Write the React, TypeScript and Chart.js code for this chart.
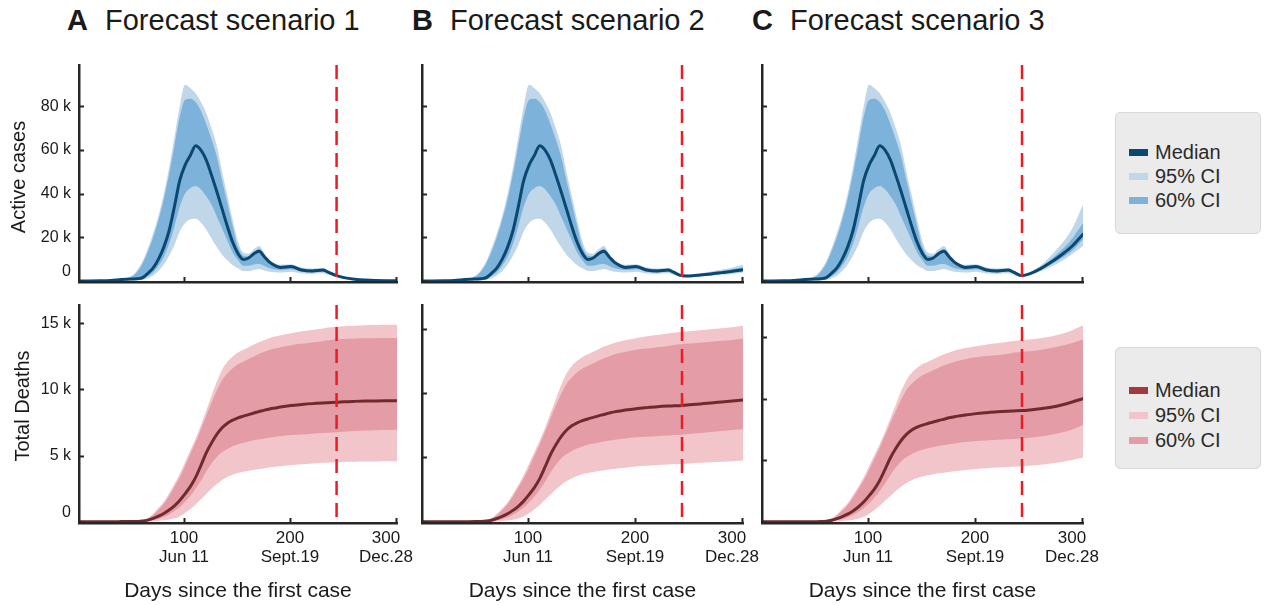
import React, { useEffect, useRef } from 'react';
import { Chart, registerables } from 'chart.js';

Chart.register(...registerables);

const FONT = '"Liberation Sans", Arial, Helvetica, sans-serif';
const AXIS_COLOR = '#262626';
const TEXT_COLOR = '#1a1a1a';
const CUTOFF_COLOR = '#ec1c24';

const ACT_95 = '#bfd7e9';
const ACT_60 = '#7db3da';
const ACT_MED = '#0b4871';
const DTH_95 = '#f1c5ca';
const DTH_60 = '#e49da6';
const DTH_MED = '#6f2a2d';
const DTH_MED_LEGEND = '#a3393f';

// ---- axis / category data ----
const DAYS_HIST = [0, 10, 20, 30, 40, 50, 55, 60, 65, 70, 75, 80, 85, 90, 95, 100, 105, 110, 115, 120, 125, 130, 135, 140, 145, 150, 155, 160, 165, 170, 175, 180, 185, 190, 200, 210, 220, 230, 235, 243];
const DAYS_FCST = [243, 250, 260, 270, 280, 290, 300];
const CUTOFF_DAY = 243;
const X_TICKS = [100, 200, 300];
const X_TICK_DATES = ['Jun 11', 'Sept.19', 'Dec.28'];
const ACTIVE_Y_TICKS = [0, 20, 40, 60, 80];
const DEATH_Y_TICKS = [0, 5, 10, 15];
const SCENARIO_TITLES = ['Forecast scenario 1', 'Forecast scenario 2', 'Forecast scenario 3'];
const PANEL_LETTERS = ['A', 'B', 'C'];
const LEGEND_LABELS = ['Median', '95% CI', '60% CI'];

// ---- Active cases (thousands), history ----
const ACTIVE_MED_HIST = [0, 0, 0.05, 0.2, 0.6, 0.9, 1.0, 1.5, 3.5, 6, 10, 15.5, 23, 34, 46, 53, 57.5, 62, 60, 55.5, 48.5, 41, 33, 25, 17.7, 12.5, 9.8, 10.5, 12.5, 13.6, 11, 8.5, 7, 6.2, 6.6, 5.0, 4.6, 5.0, 4.0, 2.4];
const ACTIVE_U95_HIST = [0, 0, 0.1, 0.4, 1, 2.5, 5, 9, 15, 22, 30, 40, 52, 66, 80, 90, 88.5, 86, 82, 77, 70, 62, 50, 39, 28, 18, 13, 12.5, 14.5, 16, 12.5, 9.5, 8, 7.4, 7.6, 6.1, 5.7, 5.9, 4.9, 3.0];
const ACTIVE_U60_HIST = [0, 0, 0.08, 0.3, 0.8, 2, 4.2, 8, 13.5, 20, 28, 37.5, 49, 62, 75, 83, 83.5, 82, 78, 72, 65, 57, 46, 35.5, 25, 15.5, 11.5, 11.2, 13.2, 14.8, 11.8, 8.7, 7.5, 6.9, 7.1, 5.7, 5.3, 5.5, 4.5, 2.8];
const ACTIVE_L60_HIST = [0, 0, 0.02, 0.1, 0.3, 0.5, 0.6, 0.8, 2.2, 4, 7, 11, 17, 25, 34, 40, 42.5, 43.5, 42, 38.8, 35, 29.5, 24, 18.5, 13, 9.5, 7, 7, 7.5, 7.7, 6.8, 5.8, 5.3, 5, 5.4, 4.2, 3.9, 4.2, 3.3, 2.0];
const ACTIVE_L95_HIST = [0, 0, 0, 0.05, 0.15, 0.25, 0.3, 0.4, 1.2, 2.5, 4.5, 7.5, 11.5, 16.5, 22.5, 26.5, 28.2, 28.5, 26.8, 23.6, 19.5, 15.5, 12, 9.5, 7.2, 5.8, 4.5, 4.5, 5.0, 5.5, 4.8, 4.2, 4.0, 3.8, 4.2, 3.4, 3.2, 3.5, 2.8, 1.8];

// ---- Active cases (thousands), forecasts ----
const ACTIVE_MED_S1 = [2.4, 1.5, 0.8, 0.4, 0.2, 0.1, 0.05];
const ACTIVE_U95_S1 = [3.0, 2.0, 1.1, 0.6, 0.35, 0.2, 0.1];
const ACTIVE_U60_S1 = [2.8, 1.8, 1.0, 0.5, 0.3, 0.15, 0.08];
const ACTIVE_L60_S1 = [2.0, 1.2, 0.6, 0.3, 0.15, 0.07, 0.03];
const ACTIVE_L95_S1 = [1.8, 1.0, 0.5, 0.25, 0.1, 0.05, 0.02];

const ACTIVE_MED_S2 = [2.4, 2.3, 2.7, 3.2, 3.8, 4.4, 5.1];
const ACTIVE_U95_S2 = [3.0, 2.9, 3.5, 4.3, 5.2, 6.2, 7.4];
const ACTIVE_U60_S2 = [2.8, 2.7, 3.2, 3.8, 4.5, 5.3, 6.3];
const ACTIVE_L60_S2 = [2.0, 2.0, 2.3, 2.7, 3.2, 3.7, 4.3];
const ACTIVE_L95_S2 = [1.8, 1.8, 2.1, 2.4, 2.8, 3.2, 3.7];

const ACTIVE_MED_S3 = [2.4, 3.2, 5.5, 8.5, 12, 16, 21.4];
const ACTIVE_U95_S3 = [3.0, 4.0, 7.0, 11.5, 17, 24, 35];
const ACTIVE_U60_S3 = [2.8, 3.6, 6.2, 9.8, 14.2, 19.5, 26.5];
const ACTIVE_L60_S3 = [2.0, 2.9, 4.9, 7.5, 10.5, 14, 19];
const ACTIVE_L95_S3 = [1.8, 2.6, 4.4, 6.5, 9, 12.3, 16];

// ---- Total deaths (thousands), history ----
const DEATH_MED_HIST = [0, 0, 0, 0, 0.005, 0.01, 0.02, 0.05, 0.12, 0.25, 0.42, 0.62, 0.88, 1.2, 1.6, 2.1, 2.65, 3.35, 4.25, 5.2, 5.95, 6.6, 7.1, 7.45, 7.68, 7.85, 7.98, 8.1, 8.22, 8.33, 8.44, 8.53, 8.6, 8.67, 8.78, 8.86, 8.93, 8.98, 9.0, 9.03];
const DEATH_U95_HIST = [0, 0, 0, 0.005, 0.01, 0.03, 0.06, 0.12, 0.28, 0.6, 1.05, 1.5, 2.15, 2.85, 3.6, 4.5, 5.4, 6.3, 7.3, 8.4, 9.5, 10.6, 11.5, 12.1, 12.5, 12.8, 13.0, 13.2, 13.4, 13.6, 13.75, 13.9, 14.0, 14.1, 14.25, 14.4, 14.5, 14.62, 14.68, 14.75];
const DEATH_U60_HIST = [0, 0, 0, 0.004, 0.008, 0.02, 0.05, 0.1, 0.22, 0.5, 0.9, 1.35, 1.95, 2.65, 3.35, 4.2, 5.1, 6.0, 7.0, 8.0, 9.0, 9.9, 10.7, 11.2, 11.6, 11.9, 12.1, 12.3, 12.5, 12.7, 12.85, 13.0, 13.1, 13.2, 13.35, 13.45, 13.55, 13.65, 13.72, 13.8];
const DEATH_L60_HIST = [0, 0, 0, 0, 0, 0.005, 0.01, 0.02, 0.05, 0.12, 0.22, 0.35, 0.55, 0.8, 1.1, 1.5, 1.95, 2.5, 3.1, 3.8, 4.4, 4.9, 5.25, 5.5, 5.7, 5.85, 5.97, 6.07, 6.15, 6.23, 6.3, 6.36, 6.42, 6.47, 6.55, 6.6, 6.66, 6.7, 6.73, 6.76];
const DEATH_L95_HIST = [0, 0, 0, 0, 0, 0, 0, 0, 0.01, 0.03, 0.06, 0.1, 0.16, 0.25, 0.4, 0.65, 0.95, 1.3, 1.7, 2.1, 2.5, 2.85, 3.15, 3.38, 3.55, 3.68, 3.78, 3.86, 3.93, 3.99, 4.05, 4.1, 4.15, 4.2, 4.28, 4.34, 4.4, 4.45, 4.47, 4.5];

// ---- Total deaths (thousands), forecasts ----
const DEATH_MED_S1 = [9.03, 9.07, 9.1, 9.12, 9.13, 9.14, 9.15];
const DEATH_U95_S1 = [14.75, 14.78, 14.82, 14.85, 14.87, 14.89, 14.9];
const DEATH_U60_S1 = [13.8, 13.82, 13.85, 13.87, 13.88, 13.89, 13.9];
const DEATH_L60_S1 = [6.76, 6.8, 6.85, 6.89, 6.92, 6.94, 6.96];
const DEATH_L95_S1 = [4.5, 4.52, 4.54, 4.55, 4.56, 4.57, 4.58];

const DEATH_MED_S2 = [9.03, 9.08, 9.15, 9.22, 9.3, 9.38, 9.46];
const DEATH_U95_S2 = [14.75, 14.8, 14.87, 14.95, 15.03, 15.11, 15.2];
const DEATH_U60_S2 = [13.8, 13.84, 13.9, 13.97, 14.05, 14.12, 14.2];
const DEATH_L60_S2 = [6.76, 6.81, 6.88, 6.96, 7.04, 7.12, 7.2];
const DEATH_L95_S2 = [4.5, 4.53, 4.57, 4.62, 4.66, 4.7, 4.75];

const DEATH_MED_S3 = [9.03, 9.08, 9.17, 9.3, 9.48, 9.72, 10.0];
const DEATH_U95_S3 = [14.75, 14.8, 14.9, 15.05, 15.25, 15.55, 15.95];
const DEATH_U60_S3 = [13.8, 13.85, 13.95, 14.1, 14.3, 14.52, 14.8];
const DEATH_L60_S3 = [6.76, 6.82, 6.92, 7.06, 7.25, 7.5, 7.86];
const DEATH_L95_S3 = [4.5, 4.55, 4.63, 4.73, 4.86, 5.02, 5.2];

// y-axis ranges (thousands)
const ACTIVE_Y_RANGE = [-0.5, 99];
const DEATH_Y_RANGES = [[-0.1, 16.39], [-0.1, 16.83], [-0.1, 17.6]];

type Band = { med: number[]; u95: number[]; u60: number[]; l60: number[]; l95: number[] };

const ACTIVE_HIST: Band = { med: ACTIVE_MED_HIST, u95: ACTIVE_U95_HIST, u60: ACTIVE_U60_HIST, l60: ACTIVE_L60_HIST, l95: ACTIVE_L95_HIST };
const DEATH_HIST: Band = { med: DEATH_MED_HIST, u95: DEATH_U95_HIST, u60: DEATH_U60_HIST, l60: DEATH_L60_HIST, l95: DEATH_L95_HIST };
const ACTIVE_FCST: Band[] = [
  { med: ACTIVE_MED_S1, u95: ACTIVE_U95_S1, u60: ACTIVE_U60_S1, l60: ACTIVE_L60_S1, l95: ACTIVE_L95_S1 },
  { med: ACTIVE_MED_S2, u95: ACTIVE_U95_S2, u60: ACTIVE_U60_S2, l60: ACTIVE_L60_S2, l95: ACTIVE_L95_S2 },
  { med: ACTIVE_MED_S3, u95: ACTIVE_U95_S3, u60: ACTIVE_U60_S3, l60: ACTIVE_L60_S3, l95: ACTIVE_L95_S3 },
];
const DEATH_FCST: Band[] = [
  { med: DEATH_MED_S1, u95: DEATH_U95_S1, u60: DEATH_U60_S1, l60: DEATH_L60_S1, l95: DEATH_L95_S1 },
  { med: DEATH_MED_S2, u95: DEATH_U95_S2, u60: DEATH_U60_S2, l60: DEATH_L60_S2, l95: DEATH_L95_S2 },
  { med: DEATH_MED_S3, u95: DEATH_U95_S3, u60: DEATH_U60_S3, l60: DEATH_L60_S3, l95: DEATH_L95_S3 },
];

function series(hist: number[], fc: number[]) {
  const pts = DAYS_HIST.map((d, i) => ({ x: d, y: hist[i] }));
  DAYS_FCST.forEach((d, i) => {
    if (i > 0) pts.push({ x: d, y: fc[i] });
  });
  return pts;
}

type PanelSpec = {
  left: number; top: number; w: number; h: number;
  yW: number; xH: number; padRight: number;
  hist: Band; fc: Band;
  yMin: number; yMax: number; yTicks: number[];
  c95: string; c60: string; cMed: string;
  yLabels: boolean; xLabels: boolean; yTitle?: string; yTitleX?: number; yTitleY?: number;
};

function makeDecor(p: PanelSpec) {
  return {
    id: 'decor',
    afterDraw(chart: any) {
      const { ctx, chartArea: a } = chart;
      const xs = chart.scales.x;
      const ys = chart.scales.y;
      ctx.save();
      ctx.strokeStyle = AXIS_COLOR;
      ctx.lineWidth = 2;
      ctx.beginPath();
      for (const v of p.yTicks) {
        const py = Math.round(ys.getPixelForValue(v)) + 0.5;
        ctx.moveTo(a.left, py);
        ctx.lineTo(a.left + 5, py);
      }
      for (const v of X_TICKS) {
        const px = Math.round(xs.getPixelForValue(v)) - 0.5;
        ctx.moveTo(px, a.bottom);
        ctx.lineTo(px, a.bottom - 5);
      }
      ctx.stroke();
      ctx.fillStyle = TEXT_COLOR;
      ctx.textBaseline = 'middle';
      if (p.yLabels) {
        ctx.font = `16px ${FONT}`;
        ctx.textAlign = 'right';
        for (const v of p.yTicks) {
          const py = ys.getPixelForValue(v) + (v === 0 ? -9 : 0);
          ctx.fillText(v === 0 ? '0' : `${v} k`, a.left - 8, py);
        }
      }
      if (p.xLabels) {
        ctx.font = `17px ${FONT}`;
        ctx.textAlign = 'center';
        X_TICKS.forEach((v, i) => {
          const shift = i === X_TICKS.length - 1 ? -11 : -1;
          const px = xs.getPixelForValue(v) + shift;
          ctx.fillText(String(v), px, a.bottom + 15);
          ctx.fillText(X_TICK_DATES[i], px, a.bottom + 34.5);
        });
      }
      if (p.yTitle) {
        ctx.font = `20px ${FONT}`;
        ctx.textAlign = 'center';
        ctx.translate(p.yTitleX! - p.left, p.yTitleY! - p.top);
        ctx.rotate(-Math.PI / 2);
        ctx.fillText(p.yTitle, 0, 0);
      }
      ctx.restore();
    },
  };
}

function buildConfig(p: PanelSpec): any {
  const transparent = 'rgba(0,0,0,0)';
  const band = { pointRadius: 0, borderWidth: 1, borderColor: transparent, cubicInterpolationMode: 'monotone' };
  return {
    type: 'line',
    data: {
      datasets: [
        {
          data: [{ x: CUTOFF_DAY, y: p.yMax }, { x: CUTOFF_DAY, y: p.yMin }],
          borderColor: CUTOFF_COLOR, borderWidth: 2.5, borderDash: [14, 8], pointRadius: 0, fill: false,
        },
        {
          data: series(p.hist.med, p.fc.med),
          borderColor: p.cMed, borderWidth: 3, pointRadius: 0, fill: false, cubicInterpolationMode: 'monotone',
          borderCapStyle: 'round', borderJoinStyle: 'round',
        },
        { ...band, data: series(p.hist.u60, p.fc.u60), backgroundColor: p.c60, fill: 3 },
        { ...band, data: series(p.hist.l60, p.fc.l60), fill: false },
        { ...band, data: series(p.hist.u95, p.fc.u95), backgroundColor: p.c95, fill: 5 },
        { ...band, data: series(p.hist.l95, p.fc.l95), fill: false },
      ],
    },
    options: {
      responsive: false,
      animation: false,
      events: [],
      layout: { padding: { left: 0, right: p.padRight, top: 10, bottom: 0 } },
      plugins: { legend: { display: false }, tooltip: { enabled: false } },
      scales: {
        x: {
          type: 'linear', position: 'bottom', min: 0, max: 300,
          grid: { display: false, drawTicks: false },
          border: { display: true, color: AXIS_COLOR, width: 2.5, z: 1 },
          ticks: { display: false },
          title: p.xLabels
            ? { display: true, text: 'Days since the first case', color: TEXT_COLOR, font: { family: FONT, size: 21 }, padding: { top: 0, bottom: 1 } }
            : { display: false },
          afterFit: (s: any) => { s.height = p.xH; },
        },
        y: {
          type: 'linear', position: 'left', min: p.yMin, max: p.yMax,
          grid: { display: false, drawTicks: false },
          border: { display: true, color: AXIS_COLOR, width: 2.5, z: 1 },
          ticks: { display: false },
          afterFit: (s: any) => { s.width = p.yW; },
        },
      },
    },
    plugins: [makeDecor(p)],
  };
}

function Panel({ spec }: { spec: PanelSpec }) {
  const ref = useRef<HTMLCanvasElement>(null);
  useEffect(() => {
    const chart = new Chart(ref.current as HTMLCanvasElement, buildConfig(spec));
    return () => chart.destroy();
  }, []);
  return (
    <canvas
      ref={ref}
      width={spec.w}
      height={spec.h}
      style={{ position: 'absolute', left: spec.left, top: spec.top, width: spec.w, height: spec.h }}
    />
  );
}

const COLUMNS = [
  { left: 0, w: 440, yW: 79, padRight: 43 },
  { left: 400, w: 380, yW: 22, padRight: 37 },
  { left: 740, w: 375, yW: 22, padRight: 32 },
];
const TITLE_LEFTS = [67, 412, 752];

function buildSpecs(): PanelSpec[] {
  const specs: PanelSpec[] = [];
  COLUMNS.forEach((c, i) => {
    specs.push({
      left: c.left, top: 55, w: c.w, h: 235, yW: c.yW, xH: 8, padRight: c.padRight,
      hist: ACTIVE_HIST, fc: ACTIVE_FCST[i],
      yMin: ACTIVE_Y_RANGE[0], yMax: ACTIVE_Y_RANGE[1], yTicks: ACTIVE_Y_TICKS,
      c95: ACT_95, c60: ACT_60, cMed: ACT_MED,
      yLabels: i === 0, xLabels: false,
      yTitle: i === 0 ? 'Active cases' : undefined, yTitleX: 19, yTitleY: 177,
    });
    specs.push({
      left: c.left, top: 295, w: c.w, h: 310, yW: c.yW, xH: 82, padRight: c.padRight,
      hist: DEATH_HIST, fc: DEATH_FCST[i],
      yMin: DEATH_Y_RANGES[i][0], yMax: DEATH_Y_RANGES[i][1], yTicks: DEATH_Y_TICKS,
      c95: DTH_95, c60: DTH_60, cMed: DTH_MED,
      yLabels: i === 0, xLabels: true,
      yTitle: i === 0 ? 'Total Deaths' : undefined, yTitleX: 23, yTitleY: 406,
    });
  });
  return specs;
}

function LegendBox({ top, itemYs, colors }: { top: number; itemYs: number[]; colors: string[] }) {
  return (
    <>
      <div
        style={{
          position: 'absolute', left: 1115, top, width: 146, height: 122,
          background: '#ebebeb', border: '1px solid #d8d8d8', borderRadius: 5, boxSizing: 'border-box',
        }}
      />
      {LEGEND_LABELS.map((label, i) => (
        <React.Fragment key={label}>
          <div style={{ position: 'absolute', left: 1129, top: itemYs[i] - 3.5, width: 19, height: 7, background: colors[i] }} />
          <div
            style={{
              position: 'absolute', left: 1155, top: itemYs[i] - 12, height: 24, lineHeight: '24px',
              fontFamily: FONT, fontSize: 20, color: '#2a2a2a', whiteSpace: 'nowrap',
            }}
          >
            {label}
          </div>
        </React.Fragment>
      ))}
    </>
  );
}

export default function App() {
  const specs = buildSpecs();
  return (
    <div style={{ position: 'fixed', left: 0, top: 0, width: 1267, height: 605, background: '#ffffff', overflow: 'hidden' }}>
      {TITLE_LEFTS.map((l, i) => (
        <React.Fragment key={i}>
          <div style={{ position: 'absolute', left: l, top: 6, fontFamily: FONT, fontSize: 29, lineHeight: '29px', fontWeight: 'bold', color: TEXT_COLOR }}>
            {PANEL_LETTERS[i]}
          </div>
          <div style={{ position: 'absolute', left: l + 38, top: 6, fontFamily: FONT, fontSize: 29, lineHeight: '29px', color: TEXT_COLOR, whiteSpace: 'nowrap' }}>
            {SCENARIO_TITLES[i]}
          </div>
        </React.Fragment>
      ))}
      {specs.map((s, i) => (
        <Panel key={i} spec={s} />
      ))}
      <LegendBox top={112} itemYs={[152, 176, 200]} colors={[ACT_MED, ACT_95, ACT_60]} />
      <LegendBox top={347} itemYs={[390, 415, 440]} colors={[DTH_MED_LEGEND, DTH_95, DTH_60]} />
    </div>
  );
}
